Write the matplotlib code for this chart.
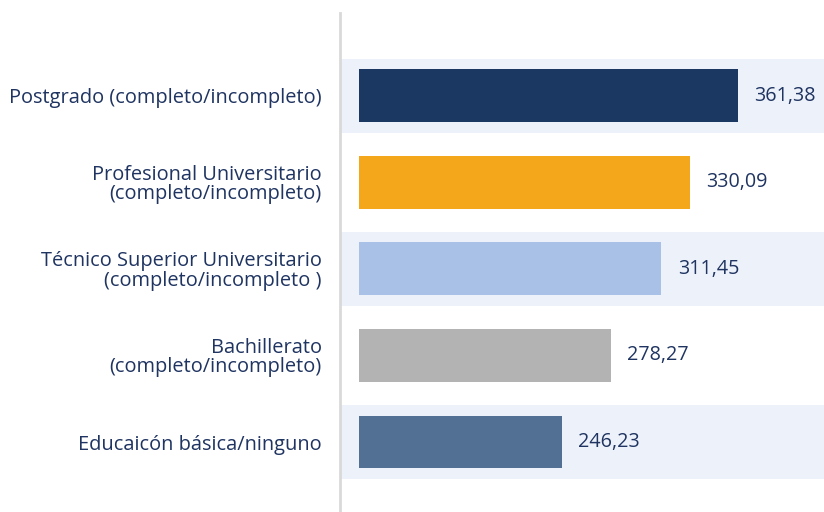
import numpy as np
import matplotlib.pyplot as plt

# =============================================================================== #
# DATOS

niveles = [
    "Postgrado (completo/incompleto)",
    "Profesional Universitario\n(completo/incompleto)",
    "Técnico Superior Universitario\n(completo/incompleto )",
    "Bachillerato\n(completo/incompleto)",
    "Educaicón básica/ninguno",
]
valores = [361.38, 330.09, 311.45, 278.27, 246.23]
etiquetas = ["361,38", "330,09", "311,45", "278,27", "246,23"]
colores = ["#1b3863", "#f5a71b", "#a9c1e6", "#b3b3b3", "#517094"]

# =============================================================================== #
# GRÁFICO

plt.rcParams["font.family"] = ["Open Sans", "DejaVu Sans"]
texto = "#1f3461"

base = 114
y = np.arange(len(valores))

fig = plt.figure(figsize=(8.24, 5.12), dpi=100)
ax = fig.add_axes([340 / 824, 0, 1 - 340 / 824, 1 - 13 / 512])

# bandas alternas de fondo
for i in y[::2]:
    ax.axhspan(i - 0.427, i + 0.427, color="#edf1f9", zorder=0, lw=0)

ax.barh(y, np.array(valores) - base, left=base, height=0.61, color=colores, zorder=2)

for i in y:
    ax.text(valores[i] + 11, i, etiquetas[i], va="center", ha="left",
            fontsize=14.2, color=texto)

ax.set_xlim(101.3, 417.9)
ax.set_ylim(4.808, -0.953)

ax.set_yticks(y)
ax.set_yticklabels(niveles, fontsize=14.4, color=texto, linespacing=0.95)
for t in ax.get_yticklabels():
    t.set_multialignment("right")
ax.tick_params(axis="y", length=0, pad=13)
ax.set_xticks([])

for s in ["top", "right", "bottom"]:
    ax.spines[s].set_visible(False)
ax.spines["left"].set_color("#d9d9d9")
ax.spines["left"].set_linewidth(2)

plt.savefig("out.png", dpi=100)
